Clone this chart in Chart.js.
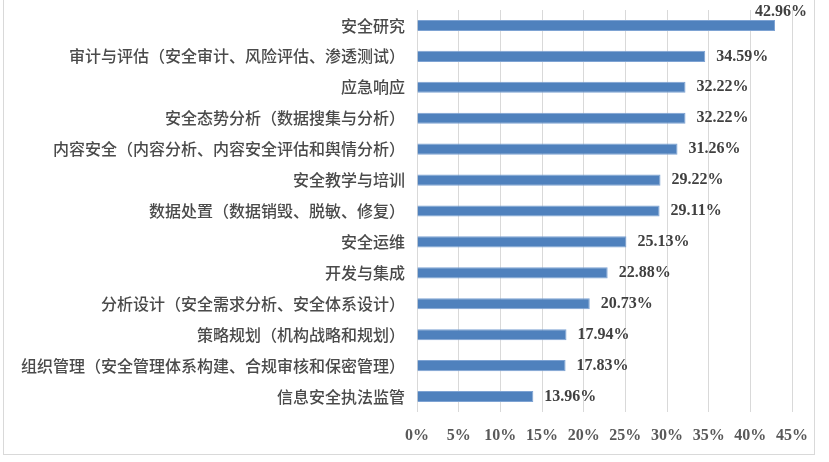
<!DOCTYPE html>
<html>
<head>
<meta charset="utf-8">
<script src="https://cdn.jsdelivr.net/npm/chart.js@4"></script>
<style>
    body { margin: 0; background: #fff; overflow: hidden; }
    #box {
        position: absolute; left: 3px; top: -2px;
        width: 810px; height: 455px;
        border: 1px solid #d9d9d9;
    }
</style>
</head>
<body>
<div id="box"><canvas id="chart"></canvas></div>
<script>
// Categories, top to bottom
const categories = [
    '安全研究',
    '审计与评估（安全审计、风险评估、渗透测试）',
    '应急响应',
    '安全态势分析（数据搜集与分析）',
    '内容安全（内容分析、内容安全评估和舆情分析）',
    '安全教学与培训',
    '数据处置（数据销毁、脱敏、修复）',
    '安全运维',
    '开发与集成',
    '分析设计（安全需求分析、安全体系设计）',
    '策略规划（机构战略和规划）',
    '组织管理（安全管理体系构建、合规审核和保密管理）',
    '信息安全执法监管'
];
const percentValues = [42.96, 34.59, 32.22, 32.22, 31.26, 29.22, 29.11, 25.13, 22.88, 20.73, 17.94, 17.83, 13.96];
const tickValues = [0, 5, 10, 15, 20, 25, 30, 35, 40, 45];

// Value labels drawn next to each bar end
const valueLabels = {
    id: 'valueLabels',
    afterDatasetsDraw(chart) {
        const ctx = chart.ctx;
        const meta = chart.getDatasetMeta(0);
        const area = chart.chartArea;
        ctx.save();
        ctx.font = 'bold 16px "Liberation Serif", serif';
        ctx.fillStyle = '#404040';
        ctx.textBaseline = 'middle';
        meta.data.forEach((bar, i) => {
            const text = percentValues[i].toFixed(2) + '%';
            const w = ctx.measureText(text).width;
            let x = bar.x + 11;
            let y = bar.y;
            if (x + w > area.right + 20) {
                // not enough room: lift the label above the bar end
                x = area.right + 15 - w;
                y = bar.y - 14;
            }
            ctx.textAlign = 'left';
            ctx.fillText(text, x, y);
        });
        ctx.restore();
    }
};

new Chart(document.getElementById('chart'), {
    type: 'bar',
    data: {
        labels: categories,
        datasets: [{
            data: percentValues,
            backgroundColor: '#4F81BD',
            borderColor: '#7ea3d3',
            borderWidth: 1,
            categoryPercentage: 1,
            barPercentage: 0.36
        }]
    },
    options: {
        indexAxis: 'y',
        responsive: true,
        maintainAspectRatio: false,
        animation: false,
        layout: { padding: { top: 11, right: 22, bottom: 0, left: 0 } },
        plugins: {
            legend: { display: false },
            tooltip: { enabled: false }
        },
        scales: {
            x: {
                min: 0,
                max: 45,
                afterBuildTicks: s => { s.ticks = tickValues.map(v => ({ value: v })); },
                afterFit: s => { s.height = 42; s.paddingLeft = 0; s.paddingRight = 0; },
                grid: { color: '#d9d9d9', drawTicks: false },
                border: { display: false },
                ticks: {
                    padding: 14,
                    color: '#595959',
                    font: { family: '"Liberation Serif", serif', size: 16, weight: 'bold' },
                    callback: v => v + '%'
                }
            },
            y: {
                afterFit: s => { s.width = 413; s.paddingTop = 0; s.paddingBottom = 0; },
                grid: { display: false, drawTicks: false },
                border: { display: false },
                ticks: {
                    padding: 12,
                    color: '#4a4a4a',
                    font: { family: '"Noto Sans CJK SC", sans-serif', size: 16, weight: '500' }
                }
            }
        }
    },
    plugins: [valueLabels]
});
</script>
</body>
</html>
